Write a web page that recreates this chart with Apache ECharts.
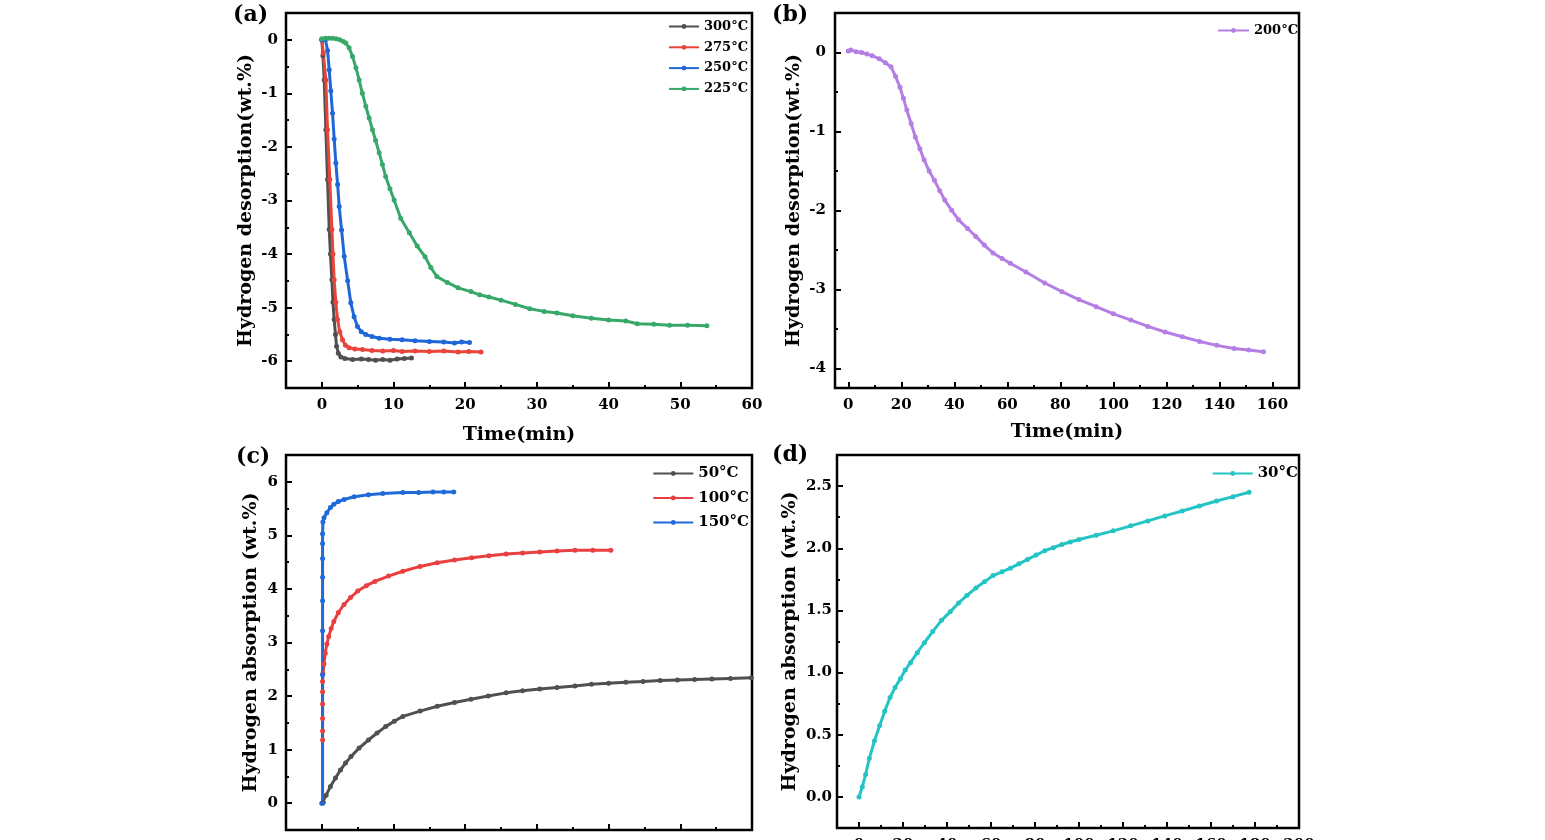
<!DOCTYPE html>
<html>
<head>
<meta charset="utf-8">
<title>Hydrogen desorption / absorption kinetics</title>
<script src="https://cdn.jsdelivr.net/npm/echarts@6/dist/echarts.min.js"></script>
<style>
  html, body { margin: 0; padding: 0; background: #fff; }
  #chart { width: 1545px; height: 840px; }
</style>
</head>
<body>
<div id="chart"></div>
<script>
// values, [time (min), wt.%]
// (a) desorption
var des300 = [[0,0],[0.15,-0.3],[0.33,-0.75],[0.56,-1.68],[0.79,-2.61],[1.03,-3.54],[1.2,-4.0],[1.4,-4.48],[1.55,-4.9],[1.72,-5.22],[1.9,-5.5],[2.05,-5.72],[2.3,-5.85],[2.65,-5.92],[3.2,-5.95],[4.3,-5.97],[5.5,-5.96],[6.5,-5.97],[7.5,-5.98],[8.5,-5.97],[9.5,-5.98],[10.5,-5.96],[11.5,-5.95],[12.5,-5.94]];
var des275 = [[0,0],[0.2,-0.25],[0.56,-0.75],[0.79,-1.68],[1.11,-2.61],[1.4,-3.54],[1.55,-4.0],[1.72,-4.48],[1.95,-4.9],[2.19,-5.22],[2.5,-5.45],[2.88,-5.6],[3.3,-5.7],[3.8,-5.75],[4.6,-5.77],[5.67,-5.78],[7,-5.8],[8.5,-5.81],[10,-5.8],[11.2,-5.82],[13,-5.81],[15,-5.82],[17,-5.81],[19,-5.83],[20.5,-5.82],[22.2,-5.83]];
var des250 = [[0,0],[0.5,0],[0.8,-0.2],[1.03,-0.56],[1.25,-0.95],[1.49,-1.37],[1.72,-1.85],[1.95,-2.3],[2.2,-2.7],[2.42,-3.11],[2.75,-3.55],[3.12,-4.04],[3.6,-4.5],[4.04,-4.91],[4.5,-5.17],[4.97,-5.35],[5.5,-5.45],[6.13,-5.5],[7,-5.54],[8,-5.57],[9.5,-5.59],[11.2,-5.6],[13,-5.62],[15,-5.63],[17,-5.64],[18.5,-5.66],[19.5,-5.64],[20.6,-5.65]];
var des225 = [[0,0.02],[0.5,0.03],[1,0.03],[1.5,0.03],[2,0.02],[2.5,0],[3,-0.03],[3.34,-0.06],[3.8,-0.15],[4.28,-0.31],[4.75,-0.52],[5.2,-0.75],[5.65,-1.0],[6.13,-1.24],[6.6,-1.46],[7.06,-1.68],[7.5,-1.88],[8,-2.11],[8.45,-2.33],[8.9,-2.55],[9.5,-2.78],[10.08,-2.99],[11,-3.33],[12.2,-3.6],[13.3,-3.85],[14.4,-4.05],[15.2,-4.25],[16.05,-4.42],[17.5,-4.53],[19,-4.63],[20.8,-4.7],[22,-4.76],[23.3,-4.8],[25,-4.86],[27,-4.94],[29,-5.02],[31,-5.07],[32.8,-5.1],[35,-5.15],[37.6,-5.2],[40,-5.23],[42.4,-5.25],[44,-5.3],[46.3,-5.31],[48.5,-5.33],[51,-5.33],[53.7,-5.34]];
// (b) desorption
var des200 = [[0,0.02],[1,0.03],[3,0.01],[5,0],[7,-0.02],[9,-0.04],[11.7,-0.08],[14,-0.13],[16.1,-0.18],[17.8,-0.3],[19.5,-0.44],[20.8,-0.58],[22.1,-0.73],[23.7,-0.9],[25.3,-1.07],[27,-1.22],[28.6,-1.36],[30.5,-1.5],[32.5,-1.62],[34.5,-1.75],[36.4,-1.87],[39,-2.0],[41.6,-2.12],[45,-2.23],[48.1,-2.33],[51.3,-2.44],[54.6,-2.54],[58,-2.61],[61.1,-2.67],[67,-2.78],[74.1,-2.92],[80.6,-3.03],[87,-3.13],[93.5,-3.22],[100,-3.31],[106.6,-3.39],[113,-3.47],[119.5,-3.54],[126,-3.6],[132.5,-3.66],[139,-3.71],[145.5,-3.75],[151,-3.77],[156.6,-3.79]];
// (c) absorption
var abs50 = [[0,0],[0.2,0.02],[0.6,0.15],[1.2,0.31],[1.9,0.47],[2.6,0.62],[3.3,0.75],[4.07,0.87],[5.2,1.03],[6.5,1.18],[7.7,1.31],[8.9,1.43],[10.1,1.53],[11.3,1.62],[13.7,1.72],[16.1,1.81],[18.5,1.88],[20.8,1.94],[23.2,2.0],[25.7,2.06],[28,2.1],[30.4,2.13],[32.8,2.16],[35.3,2.19],[37.6,2.22],[40,2.24],[42.4,2.26],[44.8,2.27],[47.2,2.29],[49.6,2.3],[52,2.31],[54.4,2.32],[57,2.33],[59.9,2.34]];
var abs100 = [[0.1,1.18],[0.1,1.35],[0.1,1.58],[0.1,1.85],[0.1,2.08],[0.1,2.27],[0.15,2.42],[0.3,2.6],[0.47,2.8],[0.7,2.97],[0.95,3.11],[1.3,3.26],[1.67,3.39],[2.3,3.56],[3.1,3.71],[4,3.84],[5,3.96],[6.2,4.06],[7.4,4.14],[9.3,4.24],[11.3,4.33],[13.7,4.42],[16.1,4.49],[18.5,4.54],[20.9,4.58],[23.3,4.62],[25.7,4.65],[28,4.67],[30.4,4.69],[32.8,4.71],[35.3,4.72],[37.8,4.72],[40.3,4.72]];
var abs150 = [[0.1,0],[0.1,2.4],[0.1,3.22],[0.1,3.78],[0.1,4.22],[0.1,4.57],[0.1,4.85],[0.1,5.03],[0.15,5.25],[0.3,5.33],[0.7,5.42],[1.2,5.52],[1.67,5.58],[2.3,5.63],[3.1,5.67],[4.5,5.72],[6.5,5.76],[8.5,5.78],[11.3,5.8],[13.5,5.8],[15.5,5.81],[17,5.81],[18.4,5.81]];
// (d) absorption
var abs30 = [[0,0],[1.5,0.08],[3,0.18],[4.7,0.31],[7,0.45],[9.4,0.575],[11.7,0.69],[14.1,0.8],[16.4,0.88],[18.8,0.95],[21,1.02],[23.4,1.08],[26.5,1.16],[29.7,1.24],[33.5,1.33],[37.5,1.42],[41.5,1.49],[45.3,1.56],[49,1.62],[53.1,1.68],[57,1.73],[60.9,1.78],[65,1.81],[68.8,1.84],[72.7,1.875],[76.6,1.91],[80.5,1.945],[84.4,1.98],[88.3,2.005],[92.2,2.03],[96,2.05],[100,2.07],[107.8,2.105],[115.6,2.14],[123.5,2.18],[131.3,2.22],[139,2.26],[146.9,2.3],[154.7,2.34],[162.5,2.38],[170,2.415],[177.3,2.45]];

// tick values
var timeTicks60 = [0, 10, 20, 30, 40, 50, 60];
var timeMinor60 = [5, 15, 25, 35, 45, 55];
var timeTicks160 = [0, 20, 40, 60, 80, 100, 120, 140, 160];
var timeMinor160 = [10, 30, 50, 70, 90, 110, 130, 150];
var timeTicks200 = [0, 20, 40, 60, 80, 100, 120, 140, 160, 180, 200];
var timeMinor200 = [10, 30, 50, 70, 90, 110, 130, 150, 170, 190];
var desTicksA = [-6, -5, -4, -3, -2, -1, 0];
var desMinorA = [-5.5, -4.5, -3.5, -2.5, -1.5, -0.5];
var desTicksB = [-4, -3, -2, -1, 0];
var desMinorB = [-3.5, -2.5, -1.5, -0.5];
var absTicksC = [0, 1, 2, 3, 4, 5, 6];
var absMinorC = [0.5, 1.5, 2.5, 3.5, 4.5, 5.5];
var absTicksD = [0, 0.5, 1.0, 1.5, 2.0, 2.5];
var absMinorD = [0.25, 0.75, 1.25, 1.75, 2.25];

var FONT = 'DejaVu Serif';
var chart = echarts.init(document.getElementById('chart'));

function txt(size) {
  return { fontFamily: FONT, fontWeight: 'bold', fontSize: size, color: '#000' };
}

// major axis (ticks + labels + name) and a bare one carrying the minor ticks
function axisPair(dim, g, min, max, ticks, minor, name, gap, margin, fmt) {
  var pos = dim === 'x' ? 'bottom' : 'left';
  var major = {
    type: 'value', gridIndex: g, min: min, max: max, position: pos,
    name: name, nameLocation: 'middle', nameGap: gap, nameTextStyle: txt(19),
    axisLine: { show: false, onZero: false },
    axisTick: { show: true, inside: true, length: 6, customValues: ticks,
      lineStyle: { color: '#000', width: 2 } },
    axisLabel: Object.assign({ customValues: ticks, margin: margin, formatter: fmt }, txt(15)),
    splitLine: { show: false }
  };
  var small = {
    type: 'value', gridIndex: g, min: min, max: max, position: pos,
    axisLine: { show: false, onZero: false },
    axisTick: { show: true, inside: true, length: 3, customValues: minor,
      lineStyle: { color: '#000', width: 2 } },
    axisLabel: { show: false },
    splitLine: { show: false }
  };
  return [major, small];
}

function line(name, data, color, g) {
  return {
    type: 'line', name: name, data: data,
    xAxisIndex: 2 * g, yAxisIndex: 2 * g,
    symbol: 'circle', symbolSize: 5,
    lineStyle: { color: color, width: 3 },
    itemStyle: { color: color },
    animation: false
  };
}

function legend(names, right, top, lineW, size, gap) {
  return {
    data: names, orient: 'vertical', right: right, top: top, align: 'left',
    itemWidth: lineW, itemHeight: 6, itemGap: gap, textStyle: txt(size)
  };
}

var plain = function (v) { return String(v); };
var oneDec = function (v) { return v.toFixed(1); };

var xAxes = [].concat(
  axisPair('x', 0, -5, 60, timeTicks60, timeMinor60, 'Time(min)', 38, 10, plain),
  axisPair('x', 1, -5, 170, timeTicks160, timeMinor160, 'Time(min)', 35, 10, plain),
  axisPair('x', 2, -5, 60, timeTicks60, timeMinor60, 'Time(min)', 38, 10, plain),
  axisPair('x', 3, -10, 200, timeTicks200, timeMinor200, 'Time(min)', 40, 10, plain)
);
var yAxes = [].concat(
  axisPair('y', 0, -6.5, 0.5, desTicksA, desMinorA, 'Hydrogen desorption(wt.%)', 30, 8, plain),
  axisPair('y', 1, -4.25, 0.5, desTicksB, desMinorB, 'Hydrogen desorption(wt.%)', 31, 9, plain),
  axisPair('y', 2, -0.5, 6.5, absTicksC, absMinorC, 'Hydrogen absorption (wt.%)', 25, 8, plain),
  axisPair('y', 3, -0.25, 2.75, absTicksD, absMinorD, 'Hydrogen absorption (wt.%)', 37, 5, oneDec)
);

var frame = { show: true, borderColor: '#000', borderWidth: 2.5, backgroundColor: 'transparent',
  containLabel: false, outerBoundsMode: 'none' };

chart.setOption({
  backgroundColor: '#fff',
  animation: false,
  grid: [
    Object.assign({ left: 286, top: 13, width: 466, height: 375 }, frame),
    Object.assign({ left: 835, top: 13, width: 464, height: 375 }, frame),
    Object.assign({ left: 286, top: 455, width: 466, height: 375 }, frame),
    Object.assign({ left: 837, top: 455, width: 462, height: 373 }, frame)
  ],
  xAxis: xAxes,
  yAxis: yAxes,
  legend: [
    legend(['300°C', '275°C', '250°C', '225°C'], 792, 15, 30, 13, 7.8),
    legend(['200°C'], 242, 19, 31, 13, 7),
    legend(['50°C', '100°C', '150°C'], 791, 461, 40, 15, 9.5),
    legend(['30°C'], 242, 461, 40, 15, 8)
  ],
  graphic: [
    { type: 'text', left: 233, top: 4, style: { text: '(a)', fontFamily: FONT, fontWeight: 'bold', fontSize: 22, fill: '#000' } },
    { type: 'text', left: 772, top: 4, style: { text: '(b)', fontFamily: FONT, fontWeight: 'bold', fontSize: 22, fill: '#000' } },
    { type: 'text', left: 236, top: 446, style: { text: '(c)', fontFamily: FONT, fontWeight: 'bold', fontSize: 22, fill: '#000' } },
    { type: 'text', left: 772, top: 444, style: { text: '(d)', fontFamily: FONT, fontWeight: 'bold', fontSize: 22, fill: '#000' } }
  ],
  series: [
    line('300°C', des300, '#505050', 0),
    line('275°C', des275, '#e8443a', 0),
    line('250°C', des250, '#1f66d8', 0),
    line('225°C', des225, '#36a86a', 0),
    line('200°C', des200, '#b47ee5', 1),
    line('50°C', abs50, '#505050', 2),
    line('100°C', abs100, '#e84040', 2),
    line('150°C', abs150, '#1f6ad8', 2),
    line('30°C', abs30, '#25c4c4', 3)
  ]
});
</script>
</body>
</html>
